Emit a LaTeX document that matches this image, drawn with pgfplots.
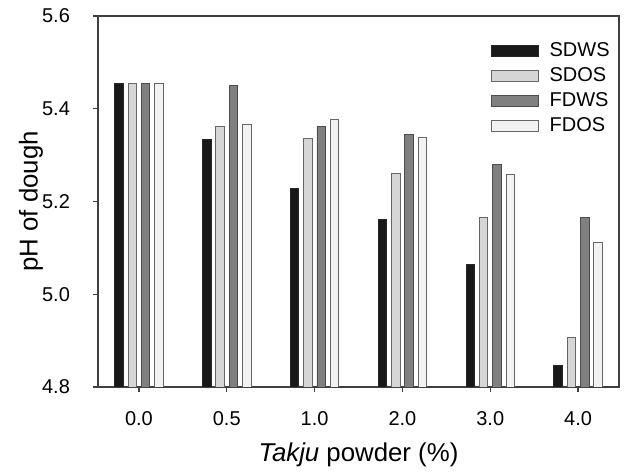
\documentclass[border=0pt]{standalone}
\usepackage{fontspec}
\setmainfont{Liberation Sans}
\usepackage{pgfplots}
\pgfplotsset{compat=1.18}

\definecolor{sdws}{gray}{0.10}
\definecolor{sdos}{gray}{0.84}
\definecolor{fdws}{gray}{0.50}
\definecolor{fdos}{gray}{0.95}
\definecolor{edge}{gray}{0.40}

\newcommand{\tickfont}{\fontsize{10pt}{12pt}\selectfont}
\newcommand{\labelfont}{\fontsize{12.9pt}{15pt}\selectfont}

\begin{document}
\begin{tikzpicture}
% fixed frame: 1 px of the reference = 0.5pt
\useasboundingbox (-49pt,-44.5pt) rectangle (267pt,193.5pt);
\begin{axis}[
    scale only axis,
    width=260.5pt, height=185.5pt,
    at={(0,0)}, anchor=south west,
    ybar=2.4pt,
    bar width=4.25pt,
    xmin=-0.466, xmax=5.466,
    ymin=4.8, ymax=5.6,
    xtick={0,1,2,3,4,5},
    xticklabels={0.0,0.5,1.0,2.0,3.0,4.0},
    ytick={4.8,5.0,5.2,5.4,5.6},
    /pgf/number format/.cd,fixed,fixed zerofill,precision=1,assume math mode=true,
    /pgfplots/.cd,
    xtick pos=bottom, ytick pos=left,
    tick align=outside,
    major tick length=2.5pt,
    axis line style={black!75, line width=0.65pt},
    every tick/.style={black!75, line width=0.65pt},
    xticklabel style={font=\tickfont, anchor=center, yshift=-13.5pt},
    yticklabel style={font=\tickfont, anchor=east, xshift=-8pt},
    xlabel={\textit{Takju} powder (\%)},
    ylabel={pH of dough},
    every axis x label/.style={at={(rel axis cs:0.5,0)}, yshift=-34pt, anchor=center, font=\labelfont},
    every axis y label/.style={at={(rel axis cs:0,0.5)}, xshift=-33.5pt, rotate=90, anchor=center, font=\labelfont},
    legend style={draw=none, fill=none, at={(rel axis cs:0.754,0.936)}, anchor=north west,
        inner sep=0pt, font=\tickfont,
        row sep=2.1pt, nodes={inner sep=1pt}},
    legend cell align=left,
    legend image code/.code={
        \draw[#1, line width=0.4pt] (0pt,-2.75pt) rectangle (23.5pt,2.75pt);
        \path[draw=none, fill=none] (0pt,0pt) -- (28pt,0pt);},
]
\addplot[fill=sdws, draw=black!85, line width=0.4pt] coordinates {
    (0,5.455) (1,5.333) (2,5.228) (3,5.162) (4,5.065) (5,4.846)};
\addplot[fill=sdos, draw=edge, line width=0.4pt] coordinates {
    (0,5.455) (1,5.363) (2,5.336) (3,5.261) (4,5.165) (5,4.906)};
\addplot[fill=fdws, draw=black!70, line width=0.4pt] coordinates {
    (0,5.455) (1,5.450) (2,5.361) (3,5.344) (4,5.280) (5,5.166)};
\addplot[fill=fdos, draw=edge, line width=0.4pt] coordinates {
    (0,5.455) (1,5.366) (2,5.378) (3,5.338) (4,5.259) (5,5.112)};
\legend{SDWS,SDOS,FDWS,FDOS}
\end{axis}
\end{tikzpicture}
\end{document}
